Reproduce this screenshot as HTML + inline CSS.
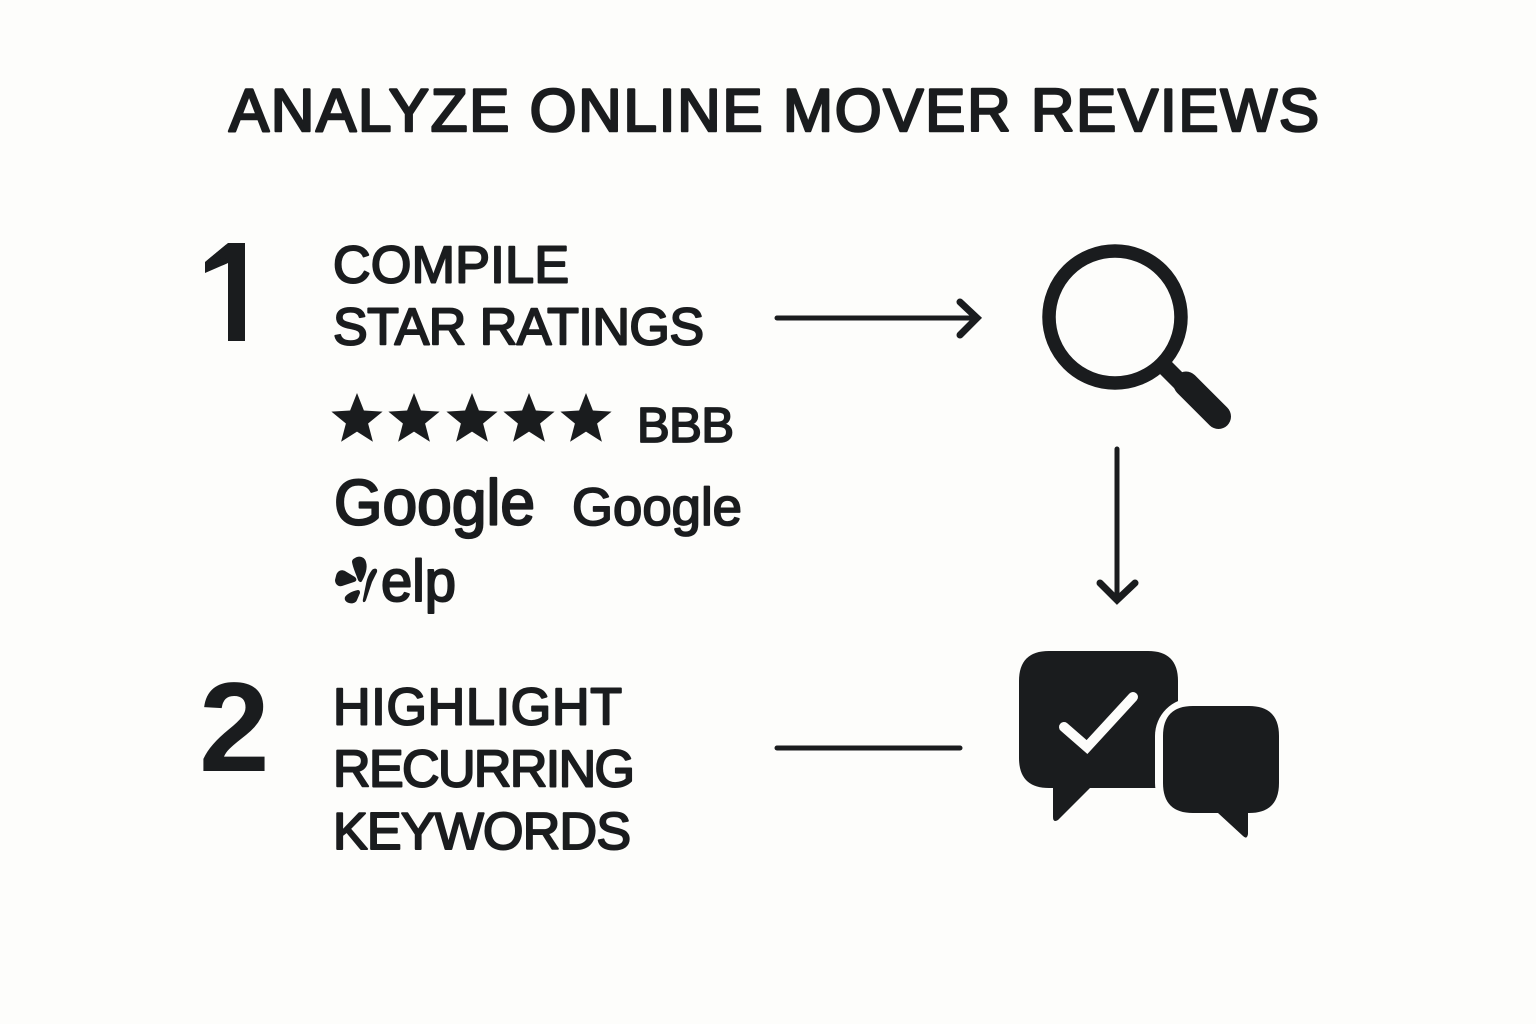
<!DOCTYPE html>
<html><head><meta charset="utf-8"><style>
html,body{margin:0;padding:0;background:#fdfdfb}
svg{display:block}
text{font-family:"Liberation Sans",sans-serif;fill:#1a1c1e;stroke:#1a1c1e;stroke-linejoin:round}
.l{font-size:52px;stroke-width:2px}
</style></head><body>
<svg width="1536" height="1024" viewBox="0 0 1536 1024" xmlns="http://www.w3.org/2000/svg">
<defs>
<clipPath id="one"><polygon points="205,262 228,243 245,243 245,341 228,341 228,263 205,273"/></clipPath>
</defs>
<rect width="1536" height="1024" fill="#fdfdfb"/>
<text x="229" y="131" font-size="60" style="stroke-width:2.6px" textLength="1090" lengthAdjust="spacing">ANALYZE ONLINE MOVER REVIEWS</text>
<text x="190" y="341" font-size="140" font-weight="bold" style="stroke-width:8px" clip-path="url(#one)">1</text>
<text x="199" y="771" font-size="127" font-weight="bold" style="stroke-width:0">2</text>
<text class="l" x="333" y="282.5" textLength="236" lengthAdjust="spacing">COMPILE</text>
<text class="l" x="333" y="344.5" textLength="371" lengthAdjust="spacing">STAR RATINGS</text>
<text class="l" x="333" y="724.5" textLength="289" lengthAdjust="spacing">HIGHLIGHT</text>
<text class="l" x="333" y="786.5" textLength="302" lengthAdjust="spacing">RECURRING</text>
<text class="l" x="333" y="849" textLength="298" lengthAdjust="spacing">KEYWORDS</text>
<g fill="#1a1c1e">
<path d="M357 393l6.9 17.5 18.7 1.1-14.5 11.9 4.8 18.2-15.9-10.1-15.9 10.1 4.8-18.2-14.5-11.9 18.7-1.1z"/>
<path transform="translate(57 0)" d="M357 393l6.9 17.5 18.7 1.1-14.5 11.9 4.8 18.2-15.9-10.1-15.9 10.1 4.8-18.2-14.5-11.9 18.7-1.1z"/>
<path transform="translate(115 0)" d="M357 393l6.9 17.5 18.7 1.1-14.5 11.9 4.8 18.2-15.9-10.1-15.9 10.1 4.8-18.2-14.5-11.9 18.7-1.1z"/>
<path transform="translate(172 0)" d="M357 393l6.9 17.5 18.7 1.1-14.5 11.9 4.8 18.2-15.9-10.1-15.9 10.1 4.8-18.2-14.5-11.9 18.7-1.1z"/>
<path transform="translate(229 0)" d="M357 393l6.9 17.5 18.7 1.1-14.5 11.9 4.8 18.2-15.9-10.1-15.9 10.1 4.8-18.2-14.5-11.9 18.7-1.1z"/>
</g>
<text x="637" y="442" font-size="49" textLength="97" lengthAdjust="spacing" style="stroke-width:1.8px">BBB</text>
<text x="334" y="524.5" font-size="64" textLength="201" lengthAdjust="spacingAndGlyphs" style="stroke-width:2.2px">Google</text>
<text x="572" y="525" font-size="53" textLength="170" lengthAdjust="spacingAndGlyphs" style="stroke-width:1.8px">Google</text>
<text x="381" y="601" font-size="58" textLength="75" lengthAdjust="spacingAndGlyphs" style="stroke-width:2px">elp</text>
<g fill="#1a1c1e">
<path d="M355 558C359 555 365 557 366 562C368 568 365 576 362 581C361 583 359 582 358 580C356 574 353 568 352 562C352 560 353 559 355 558Z"/>
<path d="M336 576C337 571 341 569 345 571L355 577C357 579 357 581 354 582L342 586C338 587 335 584 335 580Z"/>
<path d="M345 597C347 594 352 591 358 590C360 590 360 592 360 593L357 600C356 603 352 604 349 603C346 602 344 600 345 597Z"/>
<path d="M372 570C374 568 378 568 377 572L372 582L366 600C365 603 362 603 363 599L366 584C367 578 369 574 372 570Z"/>
</g>
<g fill="none" stroke="#1a1c1e" stroke-linecap="round" stroke-linejoin="miter">
<path d="M777 318H976" stroke-width="5"/>
<path d="M960 302L977 318L960 335" stroke-width="7"/>
<path d="M1117 449V600" stroke-width="5"/>
<path d="M1100 583L1117 600L1135 583" stroke-width="7"/>
<path d="M777 748H960" stroke-width="5"/>
<circle cx="1115" cy="317" r="66" stroke-width="13.5"/>
<path d="M1162 364L1184 386" stroke-width="17" stroke-linecap="butt"/>
<path d="M1186 384L1218.5 416.5" stroke-width="25"/>
</g>
<path d="M1049 651H1148Q1178 651 1178 681V780Q1178 788 1170 788H1090L1058 820Q1053 823 1053 817V788H1049Q1019 788 1019 758V681Q1019 651 1049 651Z" fill="#1a1c1e"/>
<rect x="1155" y="698" width="132" height="123" rx="38" fill="#fdfdfb"/>
<rect x="1178" y="640" width="50" height="58" fill="#fdfdfb"/>
<rect x="1154" y="788" width="30" height="30" fill="#fdfdfb"/>
<path d="M1193 706H1249Q1279 706 1279 736V783Q1279 813 1249 813H1248V834Q1247 840 1243 836L1218 813H1193Q1163 813 1163 783V736Q1163 706 1193 706Z" fill="#1a1c1e"/>
<path d="M1064 727L1087 747L1133 697" fill="none" stroke="#fdfdfb" stroke-width="10" stroke-linecap="round" stroke-linejoin="miter"/>
</svg>
</body></html>
